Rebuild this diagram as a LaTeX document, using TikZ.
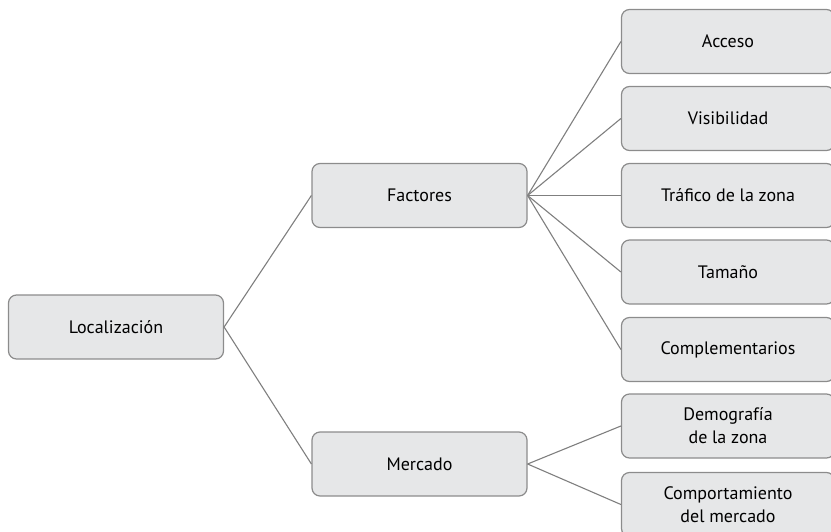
\documentclass[tikz,border=0pt]{standalone}
\usepackage{fontspec}
\setmainfont{PT Sans}
\definecolor{boxfill}{HTML}{E6E7E8}
\definecolor{boxline}{HTML}{8C8C8C}
\definecolor{conn}{HTML}{7F7F7F}
\tikzset{
  box/.style={draw=boxline, fill=boxfill, rounded corners=8pt, line width=1.2pt,
    minimum width=215pt, minimum height=64pt, align=center, inner sep=2pt,
    font=\fontsize{18}{23}\selectfont, text=black},
  conline/.style={draw=conn, line width=1.1pt}
}
\begin{document}
\begin{tikzpicture}[x=1pt,y=-1pt]
\useasboundingbox (0,0) rectangle (831,531);
\clip (0,0) rectangle (831,531);
\node[box] (loc) at (116,327) {Localización};
\node[box] (fac) at (419.5,195.5) {Factores};
\node[box] (mer) at (419.5,464) {Mercado};
\node[box, minimum width=213pt] (acc) at (728,41.5) {Acceso};
\node[box, minimum width=213pt] (vis) at (728,118.5) {Visibilidad};
\node[box, minimum width=213pt] (tra) at (728,195.5) {Tráfico de la zona};
\node[box, minimum width=213pt] (tam) at (728,272) {Tamaño};
\node[box, minimum width=213pt] (com) at (728,349.5) {Complementarios};
\node[box, minimum width=213pt] (dem) at (728,426) {Demografía\\de la zona};
\node[box, minimum width=213pt] (cpm) at (728,504.5) {Comportamiento\\del mercado};
\draw[conline] (loc.east) -- (fac.west);
\draw[conline] (loc.east) -- (mer.west);
\foreach \t in {acc,vis,tra,tam,com}{\draw[conline] (fac.east) -- (\t.west);}
\foreach \t in {dem,cpm}{\draw[conline] (mer.east) -- (\t.west);}
\end{tikzpicture}
\end{document}
